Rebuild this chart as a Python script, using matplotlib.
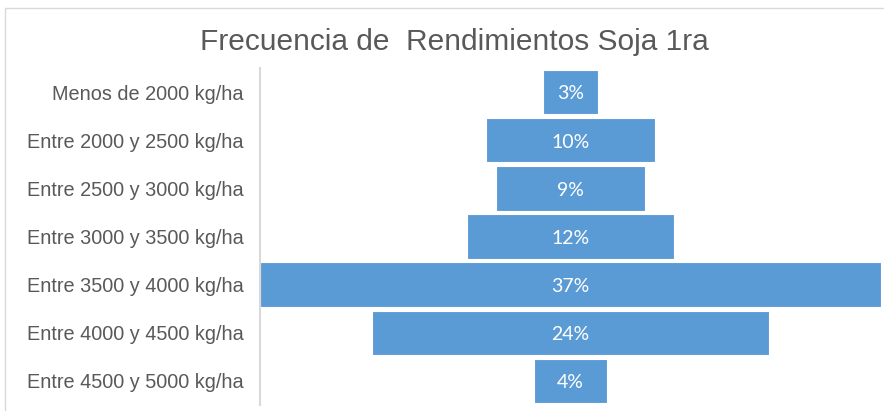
import matplotlib
matplotlib.use("Agg")
import matplotlib.pyplot as plt
from matplotlib.patches import Rectangle

categories = ["Menos de 2000 kg/ha", "Entre 2000 y 2500 kg/ha", "Entre 2500 y 3000 kg/ha",
              "Entre 3000 y 3500 kg/ha", "Entre 3500 y 4000 kg/ha", "Entre 4000 y 4500 kg/ha",
              "Entre 4500 y 5000 kg/ha"]
values = [3.3, 10.1, 8.9, 12.3, 37.0, 23.7, 4.4]
labels = ["3%", "10%", "9%", "12%", "37%", "24%", "4%"]

W, H = 884, 411
fig = plt.figure(figsize=(W / 100, H / 100), dpi=100)
fig.patch.set_facecolor("white")

# outer chart border
fig.add_artist(Rectangle((5 / W, -0.05), 1.2, 1 - 8 / H + 0.05, transform=fig.transFigure,
                         fill=False, edgecolor="#D9D9D9", linewidth=1))

ax = fig.add_axes([260 / W, 1 - 405 / H, (881 - 260) / W, (405 - 68) / H])
n = len(categories)
ypos = list(range(n))
lefts = [-v / 2 for v in values]
ax.barh(ypos, values, left=lefts, height=0.92, color="#5B9BD5", edgecolor="white", linewidth=0.8)
for y, lab in zip(ypos, labels):
    ax.text(0, y + 0.04, lab, ha="center", va="center", color="white", fontsize=14, family="Lato")

ax.set_xlim(-18.5, 18.5)
ax.set_ylim(n - 0.5, -0.5)
ax.set_yticks(ypos)
ax.set_yticklabels(categories, fontsize=14.3, color="#595959", family="Liberation Sans")
ax.tick_params(axis="y", length=0, pad=12)
ax.set_xticks([])
for s in ["top", "right", "bottom"]:
    ax.spines[s].set_visible(False)
ax.spines["left"].set_color("#D9D9D9")
ax.spines["left"].set_linewidth(1.5)

fig.text(454 / W, 1 - 42 / H, "Frecuencia de  Rendimientos Soja 1ra", ha="center", va="center",
         fontsize=21.5, color="#595959", family="Liberation Sans")

fig.savefig("out.png", dpi=100)
